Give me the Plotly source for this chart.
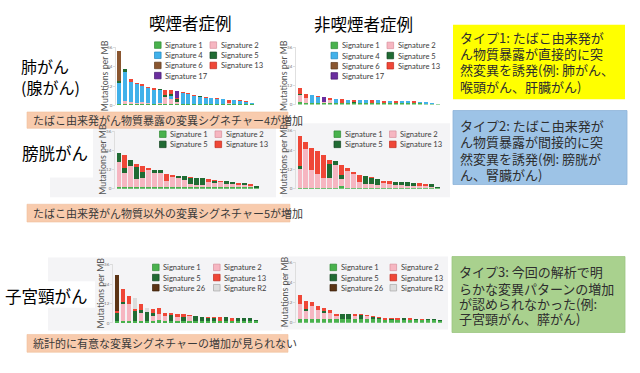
import plotly.graph_objects as go

W, H = 640, 373

# ---------------- data ----------------
bar_index = list(range(1, 25))
y_ticks = [0, 12, 24, 36]
y_title = "Mutations per MB"

sig_names = ["Signature 1", "Signature 2", "Signature 4", "Signature 5", "Signature 6",
             "Signature 13", "Signature 17", "Signature 26", "Signature R2"]
sig_fill = ["#49b24d", "#f6b6c1", "#41b1ea", "#206b33", "#8a5630",
            "#ef4737", "#6b2e9f", "#5b3415", "#dcdcdc"]
sig_edge = ["#2f8a35", "#d98f9c", "#2187c0", "#124420", "#5e391d",
            "#c22a1d", "#46196e", "#3a200a", "#a8a8a8"]

# Lung (adenocarcinoma), smokers
lung_s_sig1 = [.8, .8, .8, .8, .8, .8, .8, .8, .8, .8, .8, .8, .8, .8, .8, .8, .8, .8, .8, .8, .8, .8, .7, .5]
lung_s_sig2 = [0, 2, 1, .8, 1.5, .6, 0, .5, 4.5, 3, 1.2, 0, 0, 0, 0, 0, 0, 0, 0, .5, 0, 0, 0, 0]
lung_s_sig4 = [13, 18, 13, 11.4, 10, 9.2, 9, 8.4, 0, 2, 0, 7, 6.4, 5.2, 4.2, 3.8, 3.5, 3.1, 3.0, 0, 2.4, 2.0, 1.5, .9]
lung_s_sig5 = [1.5, 1.7, 0, 0, 0, 0, 0, .5, 1, 1, 2, 0, 0, 0, .5, 0, .4, 0, .3, 0, .3, 0, 0, 0]
lung_s_sig6 = [18.5, 0, 0, 0, 0, 0, 0, 0, 0, 0, 0, 0, 0, 0, 0, 0, 0, 0, 0, 0, 0, 0, 0, 0]
lung_s_sig13 = [0, 0, 1.7, 1.2, 1.1, .8, .8, 0, 3.5, 2.5, .5, .7, .5, .5, 0, .3, 0, .4, 0, 2.2, 0, .5, .2, 0]
lung_s_sig17 = [0, 0, 0, 0, 0, 0, 0, 0, 0, 0, 4.5, 0, 0, 0, 0, 0, 0, 0, 0, 0, 0, 0, 0, 0]

# Lung (adenocarcinoma), never-smokers
lung_n_sig1 = [1.5, 1.2, 1, 1, 1, 1, 1, 1, 1, 1, 1, .9, .9, .9, .9, .9, .9, .9, .9, .8, .8, .7, .5, .4]
lung_n_sig2 = [4.5, 2.8, 0, 0, .4, 1.8, 0, 0, 0, 0, 0, 0, 0, 0, 0, 0, 0, 0, 0, 0, 0, 0, 0, 0]
lung_n_sig4 = [0, 0, 5.3, 4, 0, 0, 2.7, 0, 2.2, 0, 2.0, 2.0, 0, 1.8, 0, 1.6, 0, 1.4, 1.3, 0, 1.0, .8, .4, .2]
lung_n_sig5 = [.5, 0, 0, 0, 0, 0, 0, 0, 0, .8, 0, 0, 0, 0, 0, 0, 0, 0, 0, 0, 0, 0, 0, 0]
lung_n_sig6 = [0] * 24
lung_n_sig13 = [4, 3, 0, .6, 0, 1.4, 0, 2.4, 0, 1.3, 0, 0, 1.9, 0, 1.7, 0, 1.5, 0, 0, 1.2, 0, 0, 0, 0]
lung_n_sig17 = [0, 0, 0, 0, 3.6, 0, 0, 0, 0, 0, 0, 0, 0, 0, 0, 0, 0, 0, 0, 0, 0, 0, 0, 0]

# Bladder, smokers
blad_s_sig1 = [1.2, 1.2, 1.2, 1, 1.2, 1, 1, 1, .8, .8, .8, .8, .8, .8, .8, .8, .8, .8, .8, .8, .8, .8, .8, .6]
blad_s_sig2 = [15.8, 9, 13, 5.4, 5.4, 11, 8.6, 8.6, 3.8, 6.8, 5.9, 4.8, 2.4, 1.6, 1.8, 3.2, 2.8, 3.7, 2, 2.2, 1.6, 1.7, 1.2, 0]
blad_s_sig5 = [5.7, 2.7, 3.8, 7.4, 4, 0, 2.4, 2, 0, 0, 1.5, 2.4, 3.5, 4.1, 4.0, 0, 1, 0, 2, 1.3, 0, 1, 0, .9]
blad_s_sig13 = [0, 8.6, 0, 1.6, 4, 1, 0, 0, 4.6, 1, 0, 0, .5, .5, 0, 2, 1, .5, 0, 0, 1.5, 0, 1, 0]

# Bladder, never-smokers
blad_n_sig1 = [.6, .6, .6, .6, .6, .6, .6, 1.6, .6, .6, .6, .6, .6, .6, .6, .6, .6, .6, .6, .6, .6, .6, .6, .4]
blad_n_sig2 = [11.7, 23.9, 11.3, 8.8, 6.1, 6.2, 14.3, 4.5, 10.3, 8.8, 3.5, 2.2, 2.3, 2, 2.7, 2.5, 1.7, 1.5, 1.4, 1, 1.2, 1, .5, 0]
blad_n_sig5 = [1.6, 0, 0, 0, 0, 8.8, 2.5, 2.7, 0, 0, 0, 5, 3.5, 3.5, 0, 0, 2, 2, 2, 2.2, 0, 0, 1.8, .6]
blad_n_sig13 = [19, 4.3, 13.3, 14.3, 14.3, 2, 0, 5.7, 2, 1.2, 4.5, 0, 1, 0, 1.8, 1.6, 0, 0, 0, 0, 1.5, 1.5, 0, 0]

# Cervix, smokers
cerv_s_sig1 = [1.4, 1.4, 1.4, 1.4, 1.4, 1.5, 1.5, 1.6, 1.5, 1.5, 1.5, 1.5, 1.5, 1.5, 1.5, 1.5, 1.5, 1.5, 1.5, 1.4, 1.4, 1.4, 1.4, 1.2]
cerv_s_sig2 = [0, 10.3, 10, 0, 5, 0, 2.5, 4, 3, 0, 2.3, 0, 2.7, 0, 0, 0, 0, 0, 0, 0, 0, 0, 0, 0]
cerv_s_sig5 = [4.6, 1.2, 0, 6, 1.5, 5.5, 2, 0, 0, 3.3, 0, 2.4, 0, 2.9, 2.3, 1.8, 1.6, 0, 1.9, 0, 1.8, 1.6, 1.4, .6]
cerv_s_sig13 = [1.4, 8, 5.1, 1, 4, 0, 2.5, 3.5, 1.5, 1.2, 2, 1.5, .8, 0, 0, .5, .5, 2, 0, 1.9, 0, 0, 0, 0]
cerv_s_sig26 = [22.2, 0, 0, 0, 0, 0, 0, 0, 0, 0, 0, 0, 0, 0, 0, 0, 0, 0, 0, 0, 0, 0, 0, 0]
cerv_s_sigR2 = [0, 0, 0, 7.1, 0, 2.5, 0, 0, 0, 0, 0, 0, 0, 0, 0, 0, 0, 0, 0, 0, 0, 0, 0, 0]

# Cervix, never-smokers
cerv_n_sig1 = [2, 2, 1.9, 2, 2, 2, 1.9, 1.9, 1.9, 1.9, 1.9, 1.9, 1.9, 1.9, 1.8, 1.8, 1.8, 1.8, 1.8, 1.8, 1.7, 1.6, 1.5, 1.0]
cerv_n_sig2 = [9.1, 4.9, 7.8, 5.8, 4, 3.8, 2, 0, 0, 2.2, 0, 1.8, 0, 0, 0, 0, 0, 0, 0, 0, 0, 0, 0, 0]
cerv_n_sig5 = [0, 1.3, 0, 0, .8, 0, 0, 3, 3, 0, 2.4, 0, 1.2, .8, 0, .5, 0, .8, 0, .6, 0, .6, .5, .3]
cerv_n_sig13 = [5.4, 4.8, 2.9, 1.9, 2, 2, 1.5, 0, .3, .8, .8, .8, .8, .6, 1.1, .5, .9, 0, .7, 0, .6, 0, 0, 0]
cerv_n_sig26 = [0] * 24
cerv_n_sigR2 = [0] * 24

legend_rows_lung = [["Signature 1", "Signature 2"], ["Signature 4", "Signature 5"],
                    ["Signature 6", "Signature 13"], ["Signature 17"]]
legend_rows_bladder = [["Signature 1", "Signature 2"], ["Signature 5", "Signature 13"]]
legend_rows_cervix = [["Signature 1", "Signature 2"], ["Signature 5", "Signature 13"],
                      ["Signature 26", "Signature R2"]]

col_titles = ["喫煙者症例", "非喫煙者症例"]
row_titles = ["肺がん<br>(腺がん)", "膀胱がん", "子宮頸がん"]
finding_texts = ["たばこ由来発がん物質暴露の変異シグネチャー4が増加",
                 "たばこ由来発がん物質以外の変異シグネチャー5が増加",
                 "統計的に有意な変異シグネチャーの増加が見られない"]
type1_lines = ["タイプ1: たばこ由来発が", "ん物質暴露が直接的に突", "然変異を誘発(例: 肺がん、", "喉頭がん、肝臓がん)"]
type2_lines = ["タイプ2: たばこ由来発が", "ん物質暴露が間接的に突", "然変異を誘発(例: 膀胱が", "ん、腎臓がん)"]
type3_lines = ["タイプ3: 今回の解析で明", "らかな変異パターンの増加", "が認められなかった(例:", "子宮頸がん、膵がん)"]

# ---------------- layout helpers ----------------
def fx(x):
    return x / W

def fy(y):
    return 1 - y / H

JP = "Noto Sans CJK JP"
LAT = "Lato"

panels = [
    dict(series=[("Signature 1", lung_s_sig1), ("Signature 2", lung_s_sig2), ("Signature 4", lung_s_sig4),
                 ("Signature 5", lung_s_sig5), ("Signature 6", lung_s_sig6), ("Signature 13", lung_s_sig13),
                 ("Signature 17", lung_s_sig17)],
         xd=(116, 255), yd=(45.7, 104.7), leg=legend_rows_lung, lx=(154.5, 210), ly=43.7),
    dict(series=[("Signature 1", lung_n_sig1), ("Signature 2", lung_n_sig2), ("Signature 4", lung_n_sig4),
                 ("Signature 5", lung_n_sig5), ("Signature 6", lung_n_sig6), ("Signature 13", lung_n_sig13),
                 ("Signature 17", lung_n_sig17)],
         xd=(296, 442), yd=(46, 104), leg=legend_rows_lung, lx=(331, 387), ly=44),
    dict(series=[("Signature 1", blad_s_sig1), ("Signature 2", blad_s_sig2), ("Signature 5", blad_s_sig5),
                 ("Signature 13", blad_s_sig13)],
         xd=(115, 260), yd=(130.7, 189.3), leg=legend_rows_bladder, lx=(159.5, 215), ly=134),
    dict(series=[("Signature 1", blad_n_sig1), ("Signature 2", blad_n_sig2), ("Signature 5", blad_n_sig5),
                 ("Signature 13", blad_n_sig13)],
         xd=(296, 441), yd=(130, 189.3), leg=legend_rows_bladder, lx=(334, 389.5), ly=134),
    dict(series=[("Signature 1", cerv_s_sig1), ("Signature 2", cerv_s_sig2), ("Signature 5", cerv_s_sig5),
                 ("Signature 13", cerv_s_sig13), ("Signature 26", cerv_s_sig26), ("Signature R2", cerv_s_sigR2)],
         xd=(113, 260), yd=(265.7, 325.3), leg=legend_rows_cervix, lx=(152.5, 213.5), ly=269),
    dict(series=[("Signature 1", cerv_n_sig1), ("Signature 2", cerv_n_sig2), ("Signature 5", cerv_n_sig5),
                 ("Signature 13", cerv_n_sig13), ("Signature 26", cerv_n_sig26), ("Signature R2", cerv_n_sigR2)],
         xd=(296, 444), yd=(263.5, 325), leg=legend_rows_cervix, lx=(330, 390), ly=269),
]

fig = go.Figure()
shapes = []
annotations = []

def rect(x0, y0, x1, y1, fill, line=None, lw=0, layer="below"):
    shapes.append(dict(type="rect", xref="paper", yref="paper", x0=fx(x0), x1=fx(x1),
                       y0=fy(y1), y1=fy(y0), fillcolor=fill, layer=layer,
                       line=dict(color=line or fill, width=lw)))

def text(x, y, s, size, color="#000", family=JP, xanchor="center", yanchor="middle", align="center", angle=0):
    annotations.append(dict(xref="paper", yref="paper", x=fx(x), y=fy(y), text=s, showarrow=False,
                            xanchor=xanchor, yanchor=yanchor, align=align, textangle=angle,
                            borderpad=0, font=dict(size=size, color=color, family=family)))

# faint panel backgrounds
PANEL_BG = "#f4f4f6"
rect(50, 123, 276, 198, PANEL_BG)
rect(282, 123, 450, 198, PANEL_BG)
rect(48, 259, 282, 333, PANEL_BG)
rect(284, 258, 448, 332, PANEL_BG)
rect(20, 128, 93, 178, "#ffffff")
rect(5, 283, 95, 310, "#ffffff")

# finding boxes
FIND_FILL = "#f8cbad"
rect(27, 111.5, 288, 128, FIND_FILL, "#f0bf9c", 0.6)
rect(27, 205, 290, 223, FIND_FILL, "#f0bf9c", 0.6)
rect(27, 337, 288, 355, FIND_FILL, "#f0bf9c", 0.6)
text(32, 120, finding_texts[0], 11, "#3a3a3a", xanchor="left")
text(32, 214, finding_texts[1], 11, "#3a3a3a", xanchor="left")
text(32, 346, finding_texts[2], 11, "#3a3a3a", xanchor="left")

# type boxes
rect(453, 23, 625, 98.5, "#ffff00")
rect(453, 110, 627, 185, "#9dc3e6", "#8db3d8", 0.8)
rect(452, 258, 625, 335, "#a9d18e", "#9cc581", 0.8)
for lines, x0, ys in [(type1_lines, 459, [35.5, 52, 68.6, 85.2]),
                      (type2_lines, 459, [125, 141.7, 158.3, 175]),
                      (type3_lines, 458, [273.5, 290, 305.5, 320.5])]:
    for s, yy in zip(lines, ys):
        text(x0, yy, s, 13, "#2e2e2e", xanchor="left", align="left")

# column / row titles
text(190, 21.5, col_titles[0], 16.5)
text(363, 22, col_titles[1], 16.5)
text(20, 76, row_titles[0], 16, xanchor="left", align="left")
text(54.5, 153, row_titles[1], 16.5)
text(46.5, 298.5, row_titles[2], 16.5)

for i, p in enumerate(panels, start=1):
    xa = "x" if i == 1 else f"x{i}"
    ya = "y" if i == 1 else f"y{i}"
    for name, vals in p["series"]:
        k = sig_names.index(name)
        fig.add_trace(go.Bar(x=bar_index, y=vals, name=name, xaxis=xa, yaxis=ya, showlegend=False,
                             marker=dict(color=sig_fill[k], line=dict(width=0))))
    sfx = "" if i == 1 else str(i)
    fig.layout["xaxis" + sfx] = dict(domain=[fx(p["xd"][0]), fx(p["xd"][1])], range=[0.4, 24.6],
                                     visible=False, anchor=ya, fixedrange=True)
    fig.layout["yaxis" + sfx] = dict(domain=[fy(p["yd"][1]), fy(p["yd"][0])], range=[0, 36.3],
                                     tickvals=y_ticks, ticks="outside", ticklen=2, tickwidth=0.6,
                                     tickcolor="#c8c8c8", showline=True, linecolor="#d8d8d8",
                                     linewidth=0.8, showgrid=False, zeroline=False, anchor=xa,
                                     tickfont=dict(size=4.5, color="#777777", family=LAT), fixedrange=True)
    # axis title
    text(p["xd"][0] - 12, (p["yd"][0] + p["yd"][1]) / 2, y_title, 8.8, "#555555", family=LAT, angle=-90)
    # legend
    for r, row in enumerate(p["leg"]):
        yy = p["ly"] + r * 10.3
        for c, name in enumerate(row):
            k = sig_names.index(name)
            x0 = p["lx"][c]
            rect(x0, yy - 3.3, x0 + 6.6, yy + 3.3, sig_fill[k], sig_edge[k], 0.7, layer="above")
            text(x0 + 9.5, yy, name, 7.6, "#3c3c3c", family=LAT, xanchor="left")

fig.update_layout(
    width=W, height=H, autosize=False,
    margin=dict(l=0, r=0, t=0, b=0),
    paper_bgcolor="#ffffff", plot_bgcolor="rgba(0,0,0,0)",
    barmode="stack", bargap=0.3,
    shapes=shapes, annotations=annotations, showlegend=False,
)

fig.write_html("out.html", config={"displayModeBar": False, "staticPlot": True},
               post_script="document.body.style.margin='0px';document.body.style.overflow='hidden';")
